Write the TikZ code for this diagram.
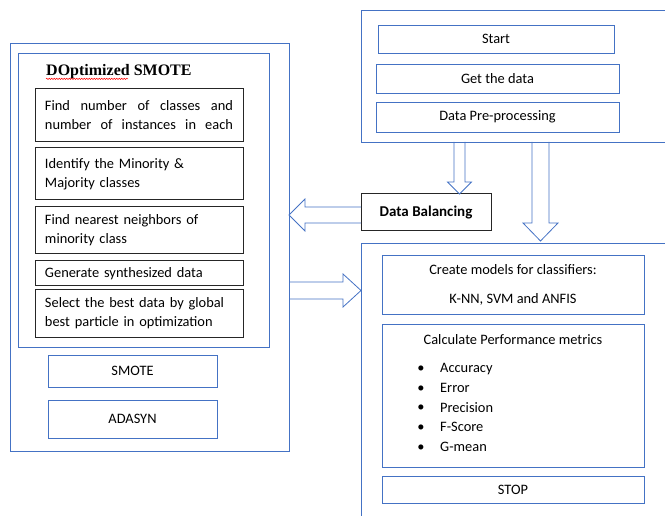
\documentclass[tikz,border=0pt]{standalone}
\usepackage{fontspec}
\setmainfont{Carlito}
\newfontfamily\titlefont{Liberation Serif}
\usepackage{tikz}
\usetikzlibrary{arrows.meta, positioning, calc, decorations.pathmorphing}
\definecolor{wordblue}{RGB}{68,114,196}
\tikzset{
    fatline/.style={draw=wordblue, line width=0.8pt, line join=miter}
}
% block arrow: from, to, shaft half width, head half width, head length
\newcommand{\fatarrow}[5]{%
    \coordinate (fa-base) at ($(#2)!#5!(#1)$);
    \draw[fatline] ($(#1)!#3!90:(#2)$) -- ($(fa-base)!#3!90:(#2)$) -- ($(fa-base)!#4!90:(#2)$)
        -- (#2) -- ($(fa-base)!#4!-90:(#2)$) -- ($(fa-base)!#3!-90:(#2)$) -- ($(#1)!#3!-90:(#2)$);
}

\begin{document}
\begin{tikzpicture}[
    x=1pt, y=-1pt,
    font=\fontsize{14.4}{19}\selectfont,
    bluebox/.style={draw=wordblue, line width=0.8pt, inner sep=0pt, outer sep=0pt},
    stepbox/.style={draw=black!85, line width=1pt, inner xsep=10pt, inner ysep=0pt, outer sep=0pt,
                    text width=188pt, align=left},
    metric/.style={anchor=west, inner sep=0pt, text height=10pt, text depth=3pt}
]
\useasboundingbox (0,0) rectangle (665,516);

% Left: balancing methods
\node[bluebox, minimum width=279pt, minimum height=408pt] (outer) at (149.5,247) {};
\node[bluebox, minimum width=251pt, minimum height=294pt] (dopt) at (143.5,200) {};
\node[anchor=west, inner sep=0pt, font=\titlefont\bfseries\fontsize{16}{19}\selectfont] (dopttitle) at (46,72) {DOptimized SMOTE};
\draw[red, line width=0.5pt, decorate, decoration={snake, amplitude=0.6pt, segment length=2.5pt}]
    ([yshift=-3pt]dopttitle.base west) -- ([yshift=-3pt, xshift=82pt]dopttitle.base west);

% DOptimized SMOTE steps
\node[stepbox, minimum height=53pt] (count) at (139,115.5)
    {\makebox[188pt][l]{Find\hfill number\hfill of\hfill classes\hfill and}\\
     \makebox[188pt][l]{number\hfill of\hfill instances\hfill in\hfill each}};
\node[stepbox, minimum height=52pt] (identify) at (139,174) {Identify the Minority \&\\Majority classes};
\node[stepbox, minimum height=47pt] (neighbors) at (139,230.5) {Find nearest neighbors of\\minority class};
\node[stepbox, minimum height=25pt] (generate) at (139,273.5) {Generate synthesized data};
\node[stepbox, minimum height=47pt] (select) at (139,313.5) {Select the best data by global\\best particle in optimization};

\node[bluebox, minimum width=169pt, minimum height=32pt] (smote) at (132.5,371) {SMOTE};
\node[bluebox, minimum width=169pt, minimum height=38pt] (adasyn) at (132.5,419) {ADASYN};

% Right top: data preparation
\node[bluebox, minimum width=306pt, minimum height=132pt] (topbox) at (514,76) {};
\node[bluebox, minimum width=236pt, minimum height=28pt] (start) at (496,39) {Start};
\node[bluebox, minimum width=243pt, minimum height=29pt] (getdata) at (497.5,78.5) {Get the data};
\node[bluebox, minimum width=243pt, minimum height=30pt] (prep) at (497.5,117) {Data Pre-processing};

\node[draw=black!85, line width=1pt, inner sep=0pt, outer sep=0pt, minimum width=130pt, minimum height=37pt,
      font=\bfseries\fontsize{15}{19}\selectfont] (dbal) at (426,212.5) {Data Balancing};

% Right bottom: classification
\node[bluebox, minimum width=306pt, minimum height=276pt] (rbot) at (514,381) {};
\node[bluebox, minimum width=262pt, minimum height=59pt, align=center] (create) at (513,284.5)
    {Create models for classifiers:\\[10pt]K-NN, SVM and ANFIS};
\node[bluebox, minimum width=262pt, minimum height=143pt] (calc) at (513,395.5) {};
\node[inner sep=0pt] (calctitle) at ($(calc.north)+(0,16)$) {Calculate Performance metrics};
\foreach \m [count=\i] in {Accuracy, Error, Precision, F-Score, G-mean} {
    \pgfmathsetmacro{\my}{369+19.75*(\i-1)}
    \node[metric] (metric\i) at (440,\my) {\m};
    \node[inner sep=0pt] (bullet\i) at (421,\my) {\textbullet};
}
\node[bluebox, minimum width=262pt, minimum height=27pt] (stop) at (513,489.5) {STOP};

% block arrows
\coordinate (src1) at ($(topbox.south west)+(98.5,0)$);
\coordinate (tip1) at (src1 |- dbal.north);
\fatarrow{src1}{tip1}{5.5pt}{12pt}{12pt}

\coordinate (src2) at ($(topbox.south west)+(179.5,0)$);
\coordinate (tip2) at ($(src2 |- rbot.north)+(0,-2)$);
\fatarrow{src2}{tip2}{8.5pt}{17.5pt}{18pt}

\coordinate (src3) at ([yshift=-2.5pt]dbal.west);
\coordinate (tip3) at (src3 -| outer.east);
\fatarrow{src3}{tip3}{8pt}{16pt}{16pt}

\coordinate (src4) at ($(outer.east)+(0,43.5)$);
\coordinate (tip4) at (src4 -| rbot.west);
\fatarrow{src4}{tip4}{8.5pt}{16.5pt}{18pt}

\end{tikzpicture}
\end{document}
